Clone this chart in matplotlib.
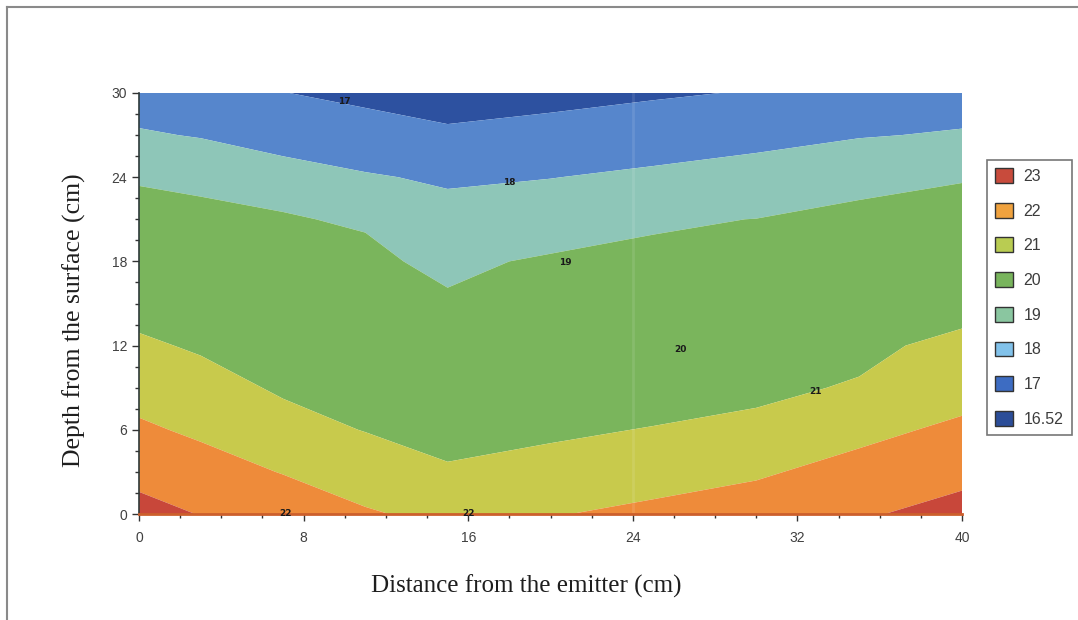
import numpy as np
import matplotlib
matplotlib.use("Agg")
import matplotlib.pyplot as plt
from matplotlib.patches import Patch
from matplotlib.lines import Line2D
from matplotlib.ticker import MultipleLocator

# ---- data ----
distance_cm = [0, 3, 7, 11, 15, 20, 25, 30, 35, 40]
depth_cm = [0, 3, 6, 9, 12, 15, 18, 21, 24, 27, 30]
# values[depth][distance]
values = [
    [22.30, 21.97, 21.60, 21.10, 20.75, 20.95, 21.20, 21.47, 21.90, 22.30],
    [21.73, 21.40, 20.96, 20.51, 20.06, 20.15, 20.63, 20.88, 21.33, 21.76],
    [21.15, 20.84, 20.31, 19.97, 19.81, 19.93, 20.02, 20.12, 20.74, 21.20],
    [20.63, 20.32, 19.89, 19.76, 19.57, 19.71, 19.80, 19.89, 20.05, 20.60],
    [20.13, 19.90, 19.68, 19.55, 19.33, 19.49, 19.58, 19.67, 19.86, 20.17],
    [19.70, 19.64, 19.46, 19.34, 19.09, 19.27, 19.36, 19.45, 19.58, 19.75],
    [19.51, 19.39, 19.25, 19.13, 18.85, 19.10, 19.14, 19.23, 19.34, 19.53],
    [19.23, 19.14, 19.04, 18.94, 18.31, 18.55, 18.92, 19.01, 19.11, 19.25],
    [18.94, 18.88, 18.81, 18.08, 17.88, 17.98, 18.17, 18.38, 18.87, 18.96],
    [18.12, 17.93, 17.18, 17.42, 17.17, 17.34, 17.53, 17.72, 17.93, 18.10],
    [17.40, 17.30, 17.02, 16.77, 16.52, 16.70, 16.89, 17.06, 17.30, 17.45],
]
levels = [16.5, 17, 18, 19, 20, 21, 22, 23]
band_colors = ["#2d51a0", "#5686cc", "#8ec6b8", "#7ab55c", "#c8ca4c", "#ee8b3a", "#c8473a"]

legend_labels = ["23", "22", "21", "20", "19", "18", "17", "16.52"]
legend_colors = ["#c84b3c", "#f0a23e", "#b9cc52", "#78b45c", "#8ac6a0", "#82c2ea", "#3d6cc2", "#2b4d98"]

contour_label_text = ["17", "18", "19", "20", "21", "22", "22"]
contour_label_x = [10.0, 18.0, 20.7, 26.3, 32.9, 7.1, 16.0]
contour_label_y = [29.4, 23.6, 17.9, 11.7, 8.7, 0.0, 0.0]

x_ticks = [0, 8, 16, 24, 32, 40]
y_ticks = [0, 6, 12, 18, 24, 30]

# ---- figure ----
W, H = 1078, 620
fig = plt.figure(figsize=(W / 100, H / 100), dpi=100)
fig.patch.set_facecolor("white")
ax = fig.add_axes([139 / W, 106 / H, 823 / W, 421 / H])

X, Y = np.meshgrid(distance_cm, depth_cm)
Z = np.array(values)
ax.contourf(X, Y, Z, levels=levels, colors=band_colors, antialiased=True)
ax.axvline(24, color="white", alpha=0.10, lw=2)

for t, xx, yy in zip(contour_label_text, contour_label_x, contour_label_y):
    ax.text(xx, yy, t, fontsize=6.5, fontweight="bold", color="#1a1a1a",
            ha="center", va="center", family="DejaVu Sans")

ax.set_xlim(0, 40)
ax.set_ylim(0, 30)
ax.set_xticks(x_ticks)
ax.set_yticks(y_ticks)
ax.xaxis.set_minor_locator(MultipleLocator(2))
ax.yaxis.set_minor_locator(MultipleLocator(1.5))
ax.tick_params(which="major", direction="out", length=5, width=1, color="#333333",
               labelsize=10, labelcolor="#404040")
ax.tick_params(axis="x", which="major", pad=7)
ax.tick_params(which="minor", direction="out", length=3, width=1, color="#333333")
for lab in ax.get_xticklabels() + ax.get_yticklabels():
    lab.set_family("Liberation Sans")

for s in ["top", "right"]:
    ax.spines[s].set_visible(False)
ax.spines["left"].set_color("#2e3a3a")
ax.spines["left"].set_linewidth(1.2)
ax.spines["bottom"].set_color("#cc5f2c")
ax.spines["bottom"].set_linewidth(2)

ax.set_xlabel("Distance from the emitter (cm)", family="Liberation Serif", fontsize=18,
              color="#1e1e1e", va="center")
ax.xaxis.set_label_coords((526 - 139) / 823, (514 - 586) / 421)
ax.set_ylabel("Depth from the surface (cm)", family="Liberation Serif", fontsize=18.5,
              color="#1e1e1e", va="center")
ax.yaxis.set_label_coords((74 - 139) / 823, (514 - 320) / 421)

handles = [Patch(facecolor=c, edgecolor="#333333", linewidth=1.0) for c in legend_colors]
leg = fig.legend(handles, legend_labels, loc="upper left",
                 bbox_to_anchor=(987 / W, 1 - 160 / H),
                 prop={"family": "Liberation Sans", "size": 11.5},
                 handlelength=1.1, handleheight=1.05, handletextpad=0.7,
                 labelspacing=1.18, borderpad=0.5, borderaxespad=0,
                 fancybox=False, frameon=True)
leg.get_frame().set_edgecolor("#555555")
leg.get_frame().set_linewidth(1.2)
for t in leg.get_texts():
    t.set_color("#3c3c3c")

# outer frame
fig.add_artist(Line2D([7 / W, 7 / W], [0, 1 - 7 / H], color="#8a8a8a", lw=1.5))
fig.add_artist(Line2D([7 / W, 1], [1 - 7 / H, 1 - 7 / H], color="#8a8a8a", lw=1.5))

fig.savefig("out.png", dpi=100)
